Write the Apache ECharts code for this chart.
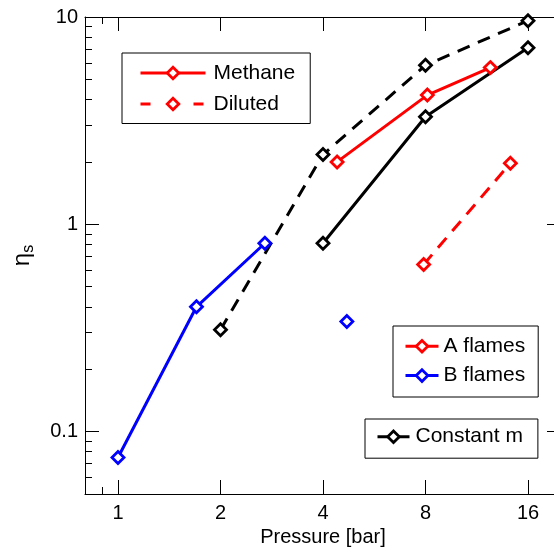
<!DOCTYPE html>
<html><head><meta charset="utf-8">
<script src="https://cdn.jsdelivr.net/npm/echarts@6/dist/echarts.min.js"></script>
<style>html,body{margin:0;padding:0;background:#fff}#c{width:554px;height:554px}</style>
</head><body><div id="c"></div>
<script>
// ---- data ----
const xTicks = [1, 2, 4, 8, 16];
const xMinorTicks = [0.9];
const yTicks = [0.1, 1, 10];
const yMinorTicks = [0.06, 0.07, 0.08, 0.09, 0.2, 0.3, 0.4, 0.5, 0.6, 0.7, 0.8, 0.9, 2, 3, 4, 5, 6, 7, 8, 9];

const aMethaneP = [4.4, 8.1, 12.4];
const aMethaneEta = [2.0, 4.2, 5.7];
const aDilutedP = [7.9, 14.2];
const aDilutedEta = [0.64, 1.97];
const bMethaneP = [1, 1.7, 2.7];
const bMethaneEta = [0.075, 0.40, 0.81];
const bDilutedP = [4.7];
const bDilutedEta = [0.34];
const cMethaneP = [4, 8, 16];
const cMethaneEta = [0.81, 3.3, 7.1];
const cDilutedP = [2, 4, 8, 16];
const cDilutedEta = [0.31, 2.17, 5.85, 9.6];

const X_MIN = 0.8, X_MAX = 20, Y_MIN = 0.05, Y_MAX = 10;
const FONT = '"Liberation Sans", Arial, Helvetica, sans-serif';
const RED = '#ff0000', BLUE = '#0000ff', BLACK = '#000000';
const DASH = [13, 9];
const LW = 3, BW = 2.8, SYM = 12;

function pairs(xs, ys) { return xs.map((x, i) => [x, ys[i]]); }
const fmt = v => String(+Number(v).toPrecision(6));

function xAx(gridIndex, position, ticks, len, labels, extra) {
  return Object.assign({
    type: 'log', logBase: 2, min: X_MIN, max: X_MAX, gridIndex, position,
    axisLine: { show: gridIndex === 0, onZero: false, lineStyle: { color: '#000', width: 1 } },
    axisTick: { show: true, inside: true, length: len, customValues: ticks, lineStyle: { color: '#000', width: 1 } },
    axisLabel: labels ? { show: true, customValues: xTicks, margin: 9, fontSize: 20, color: '#000', fontFamily: FONT, formatter: fmt } : { show: false },
    splitLine: { show: false }, minorTick: { show: false }, minorSplitLine: { show: false }
  }, extra || {});
}
function yAx(gridIndex, position, ticks, len, labels, extra) {
  return Object.assign({
    type: 'log', logBase: 10, min: Y_MIN, max: Y_MAX, gridIndex, position,
    axisLine: { show: gridIndex === 0, onZero: false, lineStyle: { color: '#000', width: 1 } },
    axisTick: { show: true, inside: true, length: len, customValues: ticks, lineStyle: { color: '#000', width: 1 } },
    axisLabel: labels ? { show: true, customValues: yTicks, margin: 7, fontSize: 20, color: '#000', fontFamily: FONT, formatter: fmt } : { show: false },
    splitLine: { show: false }, minorTick: { show: false }, minorSplitLine: { show: false }
  }, extra || {});
}

function ser(name, xs, ys, color, dashed) {
  return {
    name, type: 'line', xAxisIndex: 0, yAxisIndex: 0,
    data: pairs(xs, ys),
    symbol: 'diamond', symbolSize: SYM,
    itemStyle: { color: '#fff', borderColor: color, borderWidth: BW },
    lineStyle: { color: color, width: LW, type: dashed ? DASH : 'solid' },
    emphasis: { disabled: true }, animation: false, z: 3
  };
}
function dummy(name, color, dashType) {
  return {
    name, type: 'line', xAxisIndex: 0, yAxisIndex: 0, data: [],
    symbol: 'diamond', symbolSize: SYM,
    itemStyle: { color: '#fff', borderColor: color, borderWidth: BW },
    lineStyle: { color: color, width: LW, type: dashType },
    animation: false
  };
}

const gridBox = { left: 85, top: 17, width: 476, height: 477, containLabel: false, outerBoundsMode: 'none' };
const legendText = { fontSize: 21, lineHeight: 21, fontFamily: FONT, color: '#000' };
const legendCommon = {
  orient: 'vertical', itemHeight: 14.5, borderColor: '#000', borderWidth: 1, backgroundColor: '#fff',
  selectedMode: false, z: 10,
  lineStyle: { width: LW }, itemStyle: { borderWidth: BW }
};

const option = {
  backgroundColor: '#fff',
  animation: false,
  grid: [Object.assign({}, gridBox), Object.assign({}, gridBox)],
  xAxis: [
    xAx(0, 'bottom', xTicks, 14, true, {
      name: 'Pressure [bar]', nameLocation: 'middle', nameGap: 30,
      nameTextStyle: { fontSize: 20, fontFamily: FONT, color: '#000' }
    }),
    xAx(0, 'top', xTicks, 14, false),
    xAx(1, 'bottom', xMinorTicks, 7, false),
    xAx(1, 'top', xMinorTicks, 7, false)
  ],
  yAxis: [
    yAx(0, 'left', yTicks, 14, true, {
      name: '{e|η}{s|s}', nameLocation: 'middle', nameGap: 48, nameRotate: 90,
      nameTextStyle: {
        color: '#000', fontFamily: FONT,
        rich: {
          e: { fontSize: 24, fontFamily: FONT, color: '#000', lineHeight: 27, verticalAlign: 'top' },
          s: { fontSize: 16, fontFamily: FONT, color: '#000', lineHeight: 16, verticalAlign: 'bottom' }
        }
      }
    }),
    yAx(0, 'right', yTicks, 14, false),
    yAx(1, 'left', yMinorTicks, 7, false),
    yAx(1, 'right', yMinorTicks, 7, false)
  ],
  legend: [
    Object.assign({}, legendCommon, {
      data: ['Methane', 'Diluted'], left: 122, top: 53,
      itemWidth: 65, itemGap: 10, padding: [9.5, 15, 9, 17],
      textStyle: Object.assign({ padding: [0, 0, 0, 3] }, legendText)
    }),
    Object.assign({}, legendCommon, {
      data: ['A flames', 'B flames'], left: 393, top: 326,
      itemWidth: 33, itemGap: 8.3, padding: [9.8, 13, 10.9, 11],
      textStyle: legendText
    }),
    Object.assign({}, legendCommon, {
      data: ['Constant m'], left: 365, top: 419,
      itemWidth: 32, itemGap: 8, padding: [7.2, 15, 11, 11],
      textStyle: Object.assign({ padding: [0, 0, 0, 1] }, legendText)
    })
  ],
  series: [
    dummy('Methane', RED, 'solid'),
    dummy('Diluted', RED, [10, 43]),
    ser('Constant m (diluted)', cDilutedP, cDilutedEta, BLACK, true),
    ser('Constant m', cMethaneP, cMethaneEta, BLACK, false),
    ser('A flames', aMethaneP, aMethaneEta, RED, false),
    ser('A flames (diluted)', aDilutedP, aDilutedEta, RED, true),
    ser('B flames', bMethaneP, bMethaneEta, BLUE, false),
    ser('B flames (diluted)', bDilutedP, bDilutedEta, BLUE, true)
  ]
};

const chart = echarts.init(document.getElementById('c'), null, { renderer: 'canvas' });
chart.setOption(option);
</script></body></html>
